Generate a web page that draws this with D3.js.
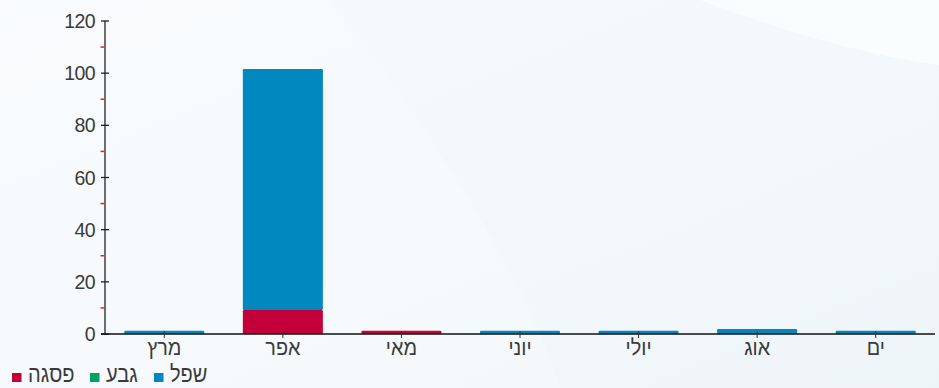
<!DOCTYPE html>
<html><head><meta charset="utf-8">
<script src="https://cdn.jsdelivr.net/npm/d3@7/dist/d3.min.js"></script>
<style>html,body{margin:0;padding:0;background:#f2f7fa;}svg{display:block;}</style>
</head><body><svg id="c" width="939" height="388"></svg>
<script>
const categories = ["מרץ","אפר","מאי","יוני","יולי","אוג","ים"];
const seriesNames = ["פסגה","גבע","שפל"];
const peakValues   = [0, 9.2, 1.2, 0, 0, 0, 0];
const midValues    = [0, 0, 0, 0, 0, 0, 0];
const lowValues    = [1.2, 92.4, 0, 1.2, 1.2, 1.9, 1.2];
const seriesColors = ["#c4003a","#00a25f","#0088bf"];
const yTicks = [0,20,40,60,80,100,120];
const yMinorTicks = [10,30,50,70,90,110];

(function(){
const svg = d3.select("#c");
const W = 939, H = 388;
const defs = svg.append("defs");
const g1 = defs.append("linearGradient").attr("id","bg").attr("x1","0").attr("y1","0").attr("x2","1").attr("y2","1");
g1.append("stop").attr("offset","0").attr("stop-color","#f7fafc");
g1.append("stop").attr("offset","0.5").attr("stop-color","#f3f8fb");
g1.append("stop").attr("offset","1").attr("stop-color","#eef5f9");
svg.append("rect").attr("width",W).attr("height",H).attr("fill","url(#bg)");
svg.append("path").attr("d","M700,0 C780,30 860,55 939,65 L939,0 Z").attr("fill","#fbfdfe").attr("opacity",0.9);
svg.append("path").attr("d","M330,0 C420,120 520,260 560,388 L0,388 L0,0 Z").attr("fill","#ffffff").attr("opacity",0.25);

const mLeft = 105, mRight = 935, mTop = 21, mBottom = 334;
const x = d3.scaleBand().domain(categories).range([mLeft,mRight]).paddingInner(0.325).paddingOuter(0.1625);
const y = d3.scaleLinear().domain([0,120]).range([mBottom,mTop]);

const rows = categories.map((c,i)=>({cat:c, "פסגה":peakValues[i], "גבע":midValues[i], "שפל":lowValues[i]}));
const stack = d3.stack().keys(seriesNames)(rows);

stack.forEach((layer,li)=>{
  svg.append("g").selectAll("rect").data(layer.filter(d=>d[1]-d[0]>0)).join("rect")
    .attr("x",d=>x(d.data.cat)).attr("width",x.bandwidth())
    .attr("y",d=>y(d[1])).attr("height",d=>y(d[0])-y(d[1]))
    .attr("rx",1.2)
    .attr("fill",seriesColors[li]);
});

// y axis
const ya = svg.append("g");
ya.append("line").attr("x1",mLeft).attr("x2",mLeft).attr("y1",mTop).attr("y2",mBottom).attr("stroke","#222").attr("stroke-width",1.3);
ya.selectAll("line.mj").data(yTicks).join("line").attr("class","mj")
  .attr("x1",mLeft-4).attr("x2",mLeft+4).attr("y1",d=>y(d)).attr("y2",d=>y(d)).attr("stroke","#222").attr("stroke-width",1.3);
ya.selectAll("line.mn").data(yMinorTicks).join("line").attr("class","mn")
  .attr("x1",mLeft-4.5).attr("x2",mLeft-0.6).attr("y1",d=>y(d)).attr("y2",d=>y(d)).attr("stroke","#ff1a1a").attr("stroke-width",1.5);
ya.selectAll("text").data(yTicks).join("text")
  .attr("x",mLeft-10).attr("y",d=>y(d)).attr("dy","0.36em").attr("text-anchor","end")
  .attr("font-family","Liberation Sans, Arial, sans-serif").attr("font-size",19.5).attr("fill","#3a3a3a")
  .attr("letter-spacing","-0.6").text(d=>d);

// x axis
const xa = svg.append("g");
xa.append("line").attr("x1",mLeft-4).attr("x2",mRight).attr("y1",mBottom).attr("y2",mBottom).attr("stroke","#111").attr("stroke-width",1.5);
xa.selectAll("line.t").data(categories).join("line").attr("class","t")
  .attr("x1",d=>x(d)+x.bandwidth()/2).attr("x2",d=>x(d)+x.bandwidth()/2).attr("y1",mBottom-3).attr("y2",mBottom+4)
  .attr("stroke","#333").attr("stroke-width",1);
xa.selectAll("text").data(categories).join("text")
  .attr("transform",d=>`translate(${x(d)+x.bandwidth()/2},${mBottom+21}) scale(0.9,1)`)
  .attr("text-anchor","middle")
  .attr("font-family","Liberation Sans, Arial, sans-serif").attr("font-size",22).attr("fill","#3a3a3a")
  .text(d=>d);

// legend
const legendX = [12, 90, 154];
const leg = svg.append("g");
seriesNames.forEach((n,i)=>{
  leg.append("rect").attr("x",legendX[i]).attr("y",373).attr("width",9.5).attr("height",9).attr("fill",seriesColors[i]);
  leg.append("text").attr("transform",`translate(${legendX[i]+16},382) scale(0.87,1)`).attr("text-anchor","start")
    .attr("font-family","Liberation Sans, Arial, sans-serif").attr("font-size",23).attr("fill","#3a3a3a").text(n);
});
})();
</script></body></html>
